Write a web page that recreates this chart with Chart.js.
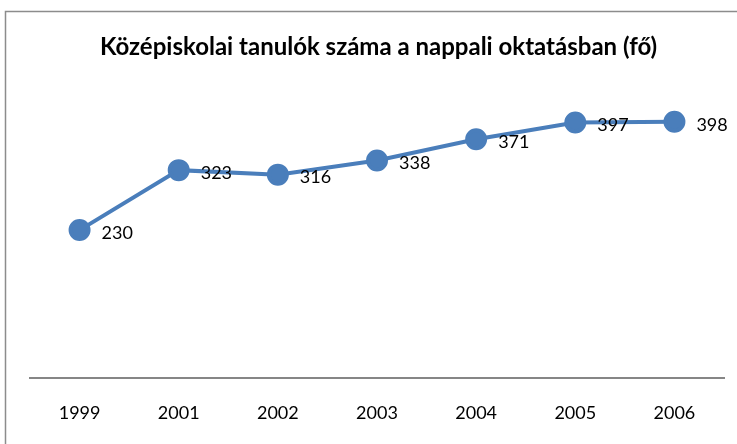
<!DOCTYPE html>
<html>
<head>
<meta charset="utf-8">
<script src="https://cdn.jsdelivr.net/npm/chart.js@4"></script>
<style>
  html, body { margin: 0; background: #fff; overflow: hidden; }
</style>
</head>
<body>
<canvas id="myChart" width="737" height="444"></canvas>
<script>
const years = ["1999", "2001", "2002", "2003", "2004", "2005", "2006"];
const students = [230, 323, 316, 338, 371, 397, 398];
const chartTitle = "Középiskolai tanulók száma a nappali oktatásban (fő)";

// outer chart frame, only the left and top edges are in view
const frame = {
  id: "frame",
  beforeDraw(chart) {
    const ctx = chart.ctx;
    ctx.save();
    ctx.strokeStyle = "#8c8c8c";
    ctx.lineWidth = 1.5;
    ctx.beginPath();
    ctx.moveTo(5.5, chart.height);
    ctx.lineTo(5.5, 11.5);
    ctx.lineTo(chart.width, 11.5);
    ctx.stroke();
    ctx.restore();
  }
};

// value labels to the right of each point
const valueLabels = {
  id: "valueLabels",
  afterDatasetsDraw(chart) {
    const ctx = chart.ctx;
    const meta = chart.getDatasetMeta(0);
    ctx.save();
    ctx.font = "18px Lato";
    ctx.fillStyle = "#000";
    ctx.textAlign = "left";
    ctx.textBaseline = "middle";
    meta.data.forEach((pt, i) => {
      ctx.fillText(students[i], pt.x + 22, pt.y + 3);
    });
    ctx.restore();
  }
};

const ctx = document.getElementById("myChart").getContext("2d");
new Chart(ctx, {
  type: "line",
  data: {
    labels: years,
    datasets: [{
      data: students,
      borderColor: "#4a7ebb",
      backgroundColor: "#4a7ebb",
      borderWidth: 4,
      pointRadius: 9,
      pointHoverRadius: 9,
      tension: 0
    }]
  },
  options: {
    responsive: false,
    animation: false,
    layout: { padding: { left: 30, right: 10, top: 0, bottom: 4 } },
    plugins: {
      legend: { display: false },
      tooltip: { enabled: false },
      title: {
        display: true,
        text: chartTitle,
        color: "#000",
        font: { family: "Lato", size: 24, weight: "bold", lineHeight: 1 },
        padding: { top: 35, bottom: -3 }
      }
    },
    scales: {
      x: {
        offset: true,
        grid: { display: false },
        border: { display: true, color: "#868686", width: 2 },
        ticks: { color: "#000", font: { family: "Lato", size: 18 }, padding: 16 }
      },
      y: {
        display: false,
        min: 0,
        max: 500
      }
    }
  },
  plugins: [frame, valueLabels]
});
</script>
</body>
</html>
